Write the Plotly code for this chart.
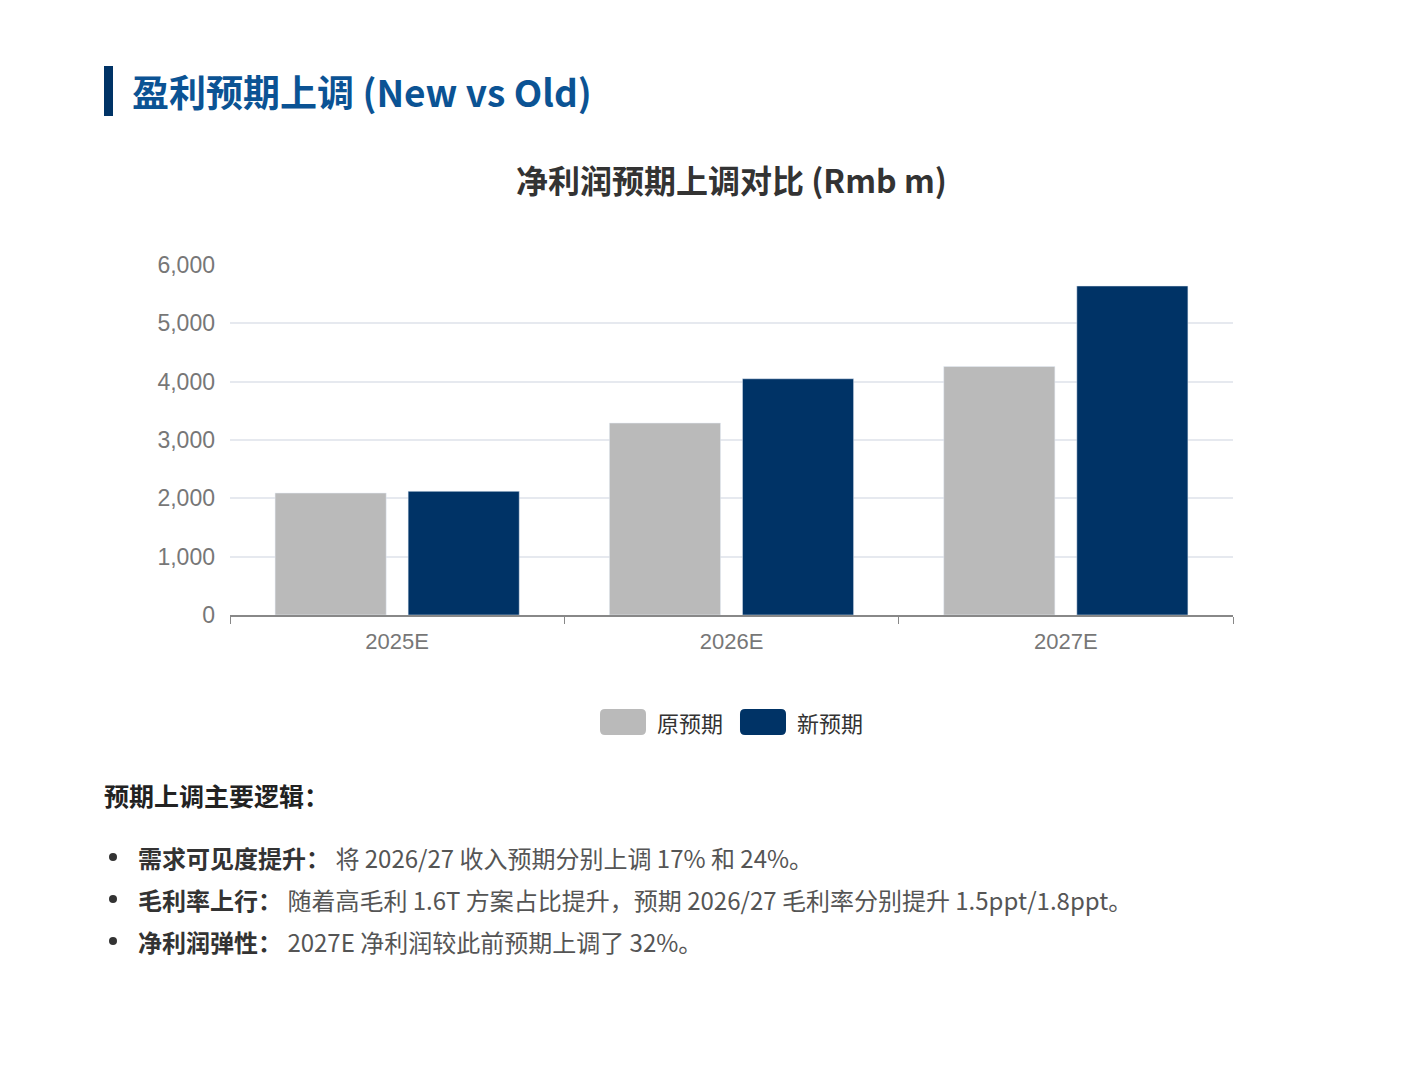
import plotly.graph_objects as go

# 数据 (Rmb m)
years = ["2025E", "2026E", "2027E"]
old_forecast = [2090, 3290, 4260]
new_forecast = [2120, 4050, 5640]
series_names = ["原预期", "新预期"]
y_ticks = [0, 1000, 2000, 3000, 4000, 5000, 6000]

page_title = "盈利预期上调 (New vs Old)"
chart_title = "净利润预期上调对比 (Rmb m)"
notes_heading = "预期上调主要逻辑："
notes = [
    ("需求可见度提升：", "将 2026/27 收入预期分别上调 17% 和 24%。"),
    ("毛利率上行：", "随着高毛利 1.6T 方案占比提升，预期 2026/27 毛利率分别提升 1.5ppt/1.8ppt。"),
    ("净利润弹性：", "2027E 净利润较此前预期上调了 32%。"),
]

GREY = "#bababa"
NAVY = "#003366"
FONT = "Noto Sans CJK SC"
TICK_FONT = "Liberation Sans, Noto Sans CJK SC"

W, H = 1411, 1080
OFF = 8  # 页面 body 的默认边距
L, R, T, B = 230, 1233, 265, 615  # 绘图区在截图中的像素位置


def px(x):
    return (x - L) / (R - L)


def py(y):
    return (B - y) / (B - T)


fig = go.Figure()
fig.add_trace(go.Bar(x=years, y=old_forecast, name=series_names[0], marker_color=GREY))
fig.add_trace(go.Bar(x=years, y=new_forecast, name=series_names[1], marker_color=NAVY))

fig.update_layout(
    width=W, height=H,
    margin=dict(l=L - OFF, r=W - (R - OFF), t=T - OFF, b=H - (B - OFF)),
    paper_bgcolor="white", plot_bgcolor="white",
    font=dict(family=FONT, color="#777"),
    barmode="group", bargap=0.204, bargroupgap=0.165,
    showlegend=False,
)
fig.update_yaxes(
    range=[0, 6000], tickvals=y_ticks, tickformat=",d",
    tickfont=dict(size=23, color="#777", family=TICK_FONT), ticklen=0,
    gridcolor="#e6e9ef", gridwidth=1.5, zeroline=False, ticklabelstandoff=14,
)
fig.update_xaxes(
    tickfont=dict(size=22, color="#777", family=TICK_FONT), showline=True,
    linecolor="#888", linewidth=1.5, ticks="outside", tickson="boundaries",
    ticklen=7, tickcolor="#888", ticklabelstandoff=6,
)

shapes = []
annotations = []

# 左侧竖条 + 页面标题
shapes.append(dict(type="rect", xref="paper", yref="paper",
                   x0=px(104), x1=px(113), y0=py(116), y1=py(66),
                   fillcolor=NAVY, line_width=0))
annotations.append(dict(text=f"<b>{page_title}</b>", xref="paper", yref="paper",
                        x=px(130), y=py(91), xanchor="left", yanchor="middle",
                        showarrow=False, font=dict(size=37, color="#0b5394", family=FONT)))

# 图表标题
annotations.append(dict(text=f"<b>{chart_title}</b>", xref="paper", yref="paper",
                        x=px(731), y=py(179), xanchor="center", yanchor="middle",
                        showarrow=False, font=dict(size=32, color="#333", family=FONT)))


def rounded_rect(x0, y0, x1, y1, r):
    # 像素坐标 -> paper 坐标的圆角矩形路径
    def P(x, y):
        return f"{px(x):.5f},{py(y):.5f}"
    return (f"M {P(x0 + r, y0)} L {P(x1 - r, y0)} Q {P(x1, y0)} {P(x1, y0 + r)} "
            f"L {P(x1, y1 - r)} Q {P(x1, y1)} {P(x1 - r, y1)} L {P(x0 + r, y1)} "
            f"Q {P(x0, y1)} {P(x0, y1 - r)} L {P(x0, y0 + r)} Q {P(x0, y0)} {P(x0 + r, y0)} Z")


# 图例
for i, (name, color) in enumerate(zip(series_names, [GREY, NAVY])):
    x0 = 600 + i * 140
    shapes.append(dict(type="path", xref="paper", yref="paper",
                       path=rounded_rect(x0, 709, x0 + 46, 735, 5),
                       fillcolor=color, line_width=0))
    annotations.append(dict(text=name, xref="paper", yref="paper",
                            x=px(x0 + 55), y=py(722), xanchor="left", yanchor="middle",
                            showarrow=False, font=dict(size=22, color="#333", family=FONT)))

# 说明文字
annotations.append(dict(text=f"<b>{notes_heading}</b>", xref="paper", yref="paper",
                        x=px(102), y=py(795), xanchor="left", yanchor="middle",
                        showarrow=False, font=dict(size=25, color="#222", family=FONT)))
for i, (head, body) in enumerate(notes):
    y = 857 + i * 42
    shapes.append(dict(type="circle", xref="paper", yref="paper",
                       x0=px(109), x1=px(117), y0=py(y + 4), y1=py(y - 4),
                       fillcolor="#333", line_width=0))
    annotations.append(dict(text=f"<b>{head}</b> <span style='color:#555'>{body}</span>",
                            xref="paper", yref="paper",
                            x=px(136), y=py(y), xanchor="left", yanchor="middle",
                            showarrow=False, font=dict(size=24, color="#333", family=FONT)))

fig.update_layout(shapes=shapes, annotations=annotations)
fig.write_html("out.html")
